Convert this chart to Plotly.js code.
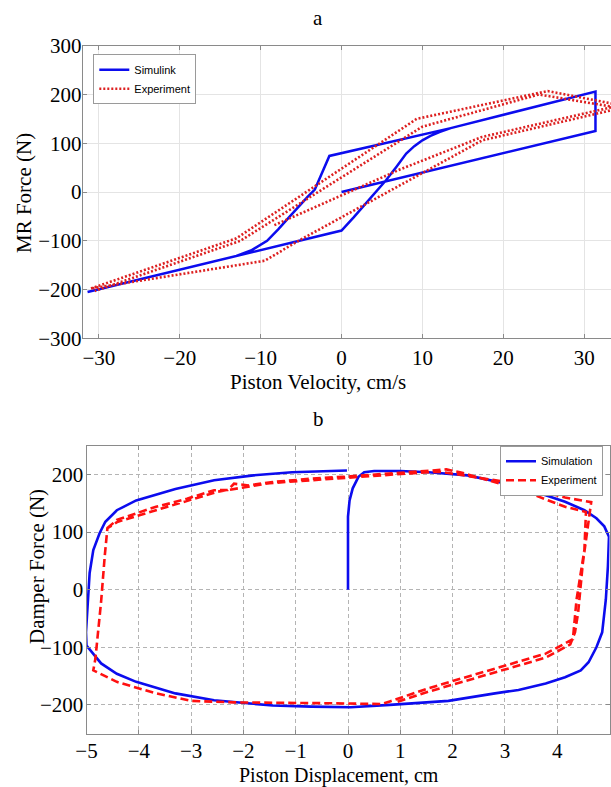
<!DOCTYPE html>
<html>
<head>
<meta charset="utf-8">
<script src="https://cdn.plot.ly/plotly-3.0.1.min.js"></script>
<style>
html,body{margin:0;padding:0;background:#fff;overflow:hidden;}
#chart{width:611px;height:787px;}
</style>
</head>
<body>
<div id="chart"></div>
<script>
// ---------- Panel a: MR force vs piston velocity ----------
const simlinkVelocity = [0, 31.4, 31.4, 13.5, -1.5, -3.3, -4.2, -5.2, -6.5, -7.8, -9.2, -11.2, -13.0, -31.4, 0, 1.5, 3.0, 4.3, 5.5, 6.8, 8.0, 9.0, 10.0, 11.0, 12.1, 13.5];
const simlinkForce    = [0, 125, 206, 131, 74, 5, -10, -29, -52, -76, -100, -120, -131, -205, -79, -52, -24, 0, 24, 52, 79, 94, 106, 115, 123, 131];

const expAVelocity = [-8.3, -5.2, 7.2, 13.3, 17.4, 34.5, 25.5, 9.3, -13.0, -31.0, -9.5, -5.2, 7.2, 17.4, 34.5, 24.4, 10.0, -12.5, -30.5];
const expAForce    = [-68, -45, 46, 86, 113, 178, 207, 150, -95, -198, -141, -99, 14, 106, 172, 200, 134, -100, -203];

const aXTicks = [-30, -20, -10, 0, 10, 20, 30];
const aYTicks = [-300, -200, -100, 0, 100, 200, 300];

// ---------- Panel b: damper force vs piston displacement ----------
const simDisp = [0, 0, 0.03, 0.09, 0.2, 0.31, 0.5, 1.0, 1.54, 2.29, 3.03, 3.78, 4.15, 4.52, 4.75, 4.9, 4.99, 4.97, 4.93, 4.86, 4.75, 4.6, 4.45, 4.15, 3.78, 3.26, 2.81, 1.92, 0.8, 0.05, -0.7, -1.44, -2.56, -3.3, -4.05, -4.42, -4.72, -4.9, -5.0, -5.01, -4.98, -4.94, -4.87, -4.75, -4.64, -4.42, -4.05, -3.3, -2.56, -1.81, -1.07, -0.02];
const simForce = [0, 127, 155, 176, 196, 204, 206, 206, 204, 198.5, 184, 164, 152.6, 138, 124, 110, 92, 41, -17, -74, -100, -126, -140, -152, -163, -174, -180, -193, -200, -204, -203, -201, -192, -180, -160, -146, -128, -108, -97, -74, -28, 29, 69, 98, 118, 138, 155, 175, 190, 198.5, 204, 207];

const expBDisp = [-4.6, -4.42, -4.05, -3.67, -3.4, -3.08, -2.56, -2.3, -2.18, -1.9, -1.44, -0.69, 0.05, 0.8, 1.54, 1.88, 2.14, 3.03, 3.4, 4.15, 4.55, 4.52, 4.37, 4.3, 3.78, 3.03, 2.29, 1.54, 0.8, 0.65, -0.5, -2.18, -3.0, -3.67, -4.42, -4.87, -4.83, -4.72, -4.65, -4.6, -4.4, -3.6, -2.5, -1.5, 0.0, 1.2, 1.75, 3.03, 4.15, 4.65, 4.49, 4.4, 4.34, 4.25, 3.78, 3.03, 2.29, 1.54, 0.9];
const expBForce = [107, 121, 132.5, 144, 150, 158, 172.7, 173, 184, 181, 187, 192.8, 196.8, 201.4, 206, 208.8, 204, 181, 170, 144, 135, 69, -17, -86, -111, -131, -151, -171, -194, -198.5, -197, -195.6, -193, -180, -160, -140, -120, -20, 60, 107, 118, 140, 170, 185, 195, 202, 205, 187, 160, 152, 46, -40, -74, -95, -118, -138, -158, -177, -196];

const bXTicks = [-5, -4, -3, -2, -1, 0, 1, 2, 3, 4, 5];
const bYTicks = [-200, -100, 0, 100, 200];

const W = 611, H = 787;
const serif = "Liberation Serif, Times New Roman, serif";
const sans = "Liberation Sans, Arial, sans-serif";
const BLUE = "#0c0cee";

const traces = [
  {x: simlinkVelocity, y: simlinkForce, name: "Simulink", type: "scatter", mode: "lines",
   line: {color: BLUE, width: 2.5}, xaxis: "x", yaxis: "y", legend: "legend"},
  {x: expAVelocity, y: expAForce, name: "Experiment", type: "scatter", mode: "lines",
   line: {color: "#dd2020", width: 2.6, dash: "2px,2px"}, xaxis: "x", yaxis: "y", legend: "legend"},
  {x: simDisp, y: simForce, name: "Simulation", type: "scatter", mode: "lines",
   line: {color: BLUE, width: 2.6}, xaxis: "x2", yaxis: "y2", legend: "legend2"},
  {x: expBDisp, y: expBForce, name: "Experiment", type: "scatter", mode: "lines",
   line: {color: "#ff1010", width: 2.6, dash: "8px,4px"}, xaxis: "x2", yaxis: "y2", legend: "legend2"}
];

const tickFont = {family: serif, size: 21, color: "#000"};
const axisCommon = {
  showline: true, linecolor: "#8a8a8a", linewidth: 1,
  ticks: "inside", ticklen: 4, tickcolor: "#8a8a8a", tickwidth: 1,
  tickfont: tickFont, zeroline: false, automargin: false, fixedrange: true
};

const px = v => v / W;
const py = v => (H - v) / H;

const layout = {
  width: W, height: H,
  margin: {l: 0, r: 0, t: 0, b: 0},
  paper_bgcolor: "#fff", plot_bgcolor: "#fff",
  showlegend: true,
  xaxis: Object.assign({}, axisCommon, {
    domain: [px(82.7), 1], range: [-32.0, 33.32], tickvals: aXTicks,
    mirror: "ticks", showgrid: true, gridcolor: "#e4e4e4", gridwidth: 1, anchor: "y"
  }),
  yaxis: Object.assign({}, axisCommon, {
    domain: [py(338.3), py(45.7)], range: [-300, 300], tickvals: aYTicks,
    mirror: false, showgrid: true, gridcolor: "#e4e4e4", gridwidth: 1, anchor: "x",
    ticklabelstandoff: -4
  }),
  xaxis2: Object.assign({}, axisCommon, {
    domain: [px(86.5), px(609.5)], range: [-5, 5], tickvals: bXTicks,
    mirror: "ticks", showgrid: true, gridcolor: "#b4b4b4", gridwidth: 1, griddash: "4px,3px", anchor: "y2",
    ticklabelstandoff: -2
  }),
  yaxis2: Object.assign({}, axisCommon, {
    domain: [py(733.7), py(445.7)], range: [-250, 250], tickvals: bYTicks,
    mirror: "ticks", showgrid: true, gridcolor: "#b4b4b4", gridwidth: 1, griddash: "4px,3px", anchor: "x2",
    ticklabelstandoff: -2
  }),
  legend: {
    x: px(93.3), y: py(54.3), xanchor: "left", yanchor: "top", xref: "paper", yref: "paper",
    bgcolor: "#fff", bordercolor: "#9a9a9a", borderwidth: 1,
    font: {family: sans, size: 11, color: "#000"}, tracegroupgap: 0
  },
  legend2: {
    x: px(603), y: py(445.7), xanchor: "right", yanchor: "top", xref: "paper", yref: "paper",
    bgcolor: "#fff", bordercolor: "#9a9a9a", borderwidth: 1,
    font: {family: sans, size: 11, color: "#000"}, tracegroupgap: 0
  },
  annotations: [
    {text: "a", x: px(318), y: py(18), xref: "paper", yref: "paper", showarrow: false,
     xanchor: "center", yanchor: "middle", font: {family: serif, size: 21, color: "#000"}},
    {text: "b", x: px(318), y: py(419), xref: "paper", yref: "paper", showarrow: false,
     xanchor: "center", yanchor: "middle", font: {family: serif, size: 21, color: "#000"}},
    {text: "Piston Velocity, cm/s", x: px(318), y: py(382), xref: "paper", yref: "paper", showarrow: false,
     xanchor: "center", yanchor: "middle", font: {family: serif, size: 21, color: "#000"}},
    {text: "MR Force (N)", x: px(24), y: py(193), xref: "paper", yref: "paper", showarrow: false, textangle: -90,
     xanchor: "center", yanchor: "middle", font: {family: serif, size: 21, color: "#000"}},
    {text: "Piston Displacement, cm", x: px(339), y: py(775.5), xref: "paper", yref: "paper", showarrow: false,
     xanchor: "center", yanchor: "middle", font: {family: serif, size: 20, color: "#000"}},
    {text: "Damper Force (N)", x: px(37), y: py(567), xref: "paper", yref: "paper", showarrow: false, textangle: -90,
     xanchor: "center", yanchor: "middle", font: {family: serif, size: 21, color: "#000"}}
  ]
};

Plotly.newPlot("chart", traces, layout, {staticPlot: true, displayModeBar: false});
</script>
</body>
</html>
